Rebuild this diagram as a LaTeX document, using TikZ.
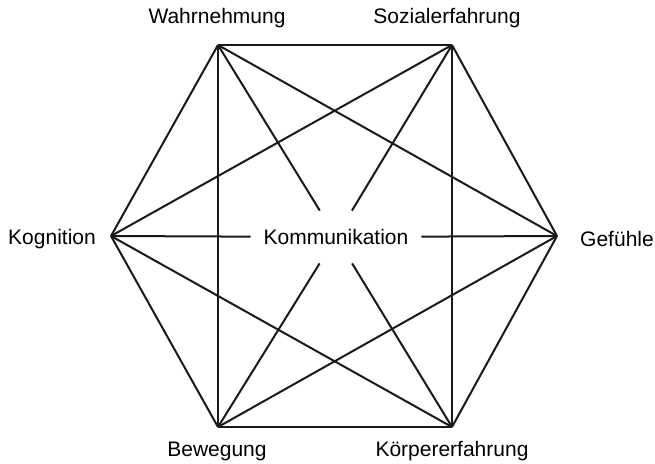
\documentclass[tikz,border=0pt]{standalone}
\usepackage{fontspec}
\setmainfont{Liberation Sans}
\usetikzlibrary{positioning,calc}

\begin{document}
\begin{tikzpicture}[
  x=0.5pt,y=-0.5pt,
  lbl/.style={font=\fontsize{10.5pt}{12pt}\selectfont,inner sep=0pt},
  hub/.style={lbl,minimum width=85pt,minimum height=26pt},
  link/.style={line width=1pt,black!90}
]
  \useasboundingbox (0,0) rectangle (655,463);
  % corners of the hexagon
  \coordinate (wahr) at (218,45);
  \coordinate (soz)  at (452,45);
  \coordinate (gef)  at (557,236);
  \coordinate (koerp) at (452,427);
  \coordinate (bew)  at (218,427);
  \coordinate (kog)  at (111,236);
  \node[hub] (komm) at (336,237) {Kommunikation};

  \node[lbl] (wahrl)  at (217,18)  {Wahrnehmung};
  \node[lbl] (sozl)   at (447,18)  {Sozialerfahrung};
  \node[lbl] (gefl)   at (617,239) {Gefühle};
  \node[lbl] (koerpl) at (452,451) {Körpererfahrung};
  \node[lbl] (bewl)   at (217,451) {Bewegung};
  \node[lbl] (kogl)   at (52,239)  {Kognition};

  % outline and short diagonals
  \foreach \a/\b in {wahr/soz,soz/gef,gef/koerp,koerp/bew,bew/kog,kog/wahr,
                     wahr/gef,wahr/bew,soz/kog,soz/koerp,gef/bew,koerp/kog}
    \draw[link] (\a) -- (\b);
  % long diagonals, broken by the hub
  \foreach \a in {wahr,soz,gef,koerp,bew,kog}
    \draw[link] (\a) -- (komm);
\end{tikzpicture}
\end{document}
